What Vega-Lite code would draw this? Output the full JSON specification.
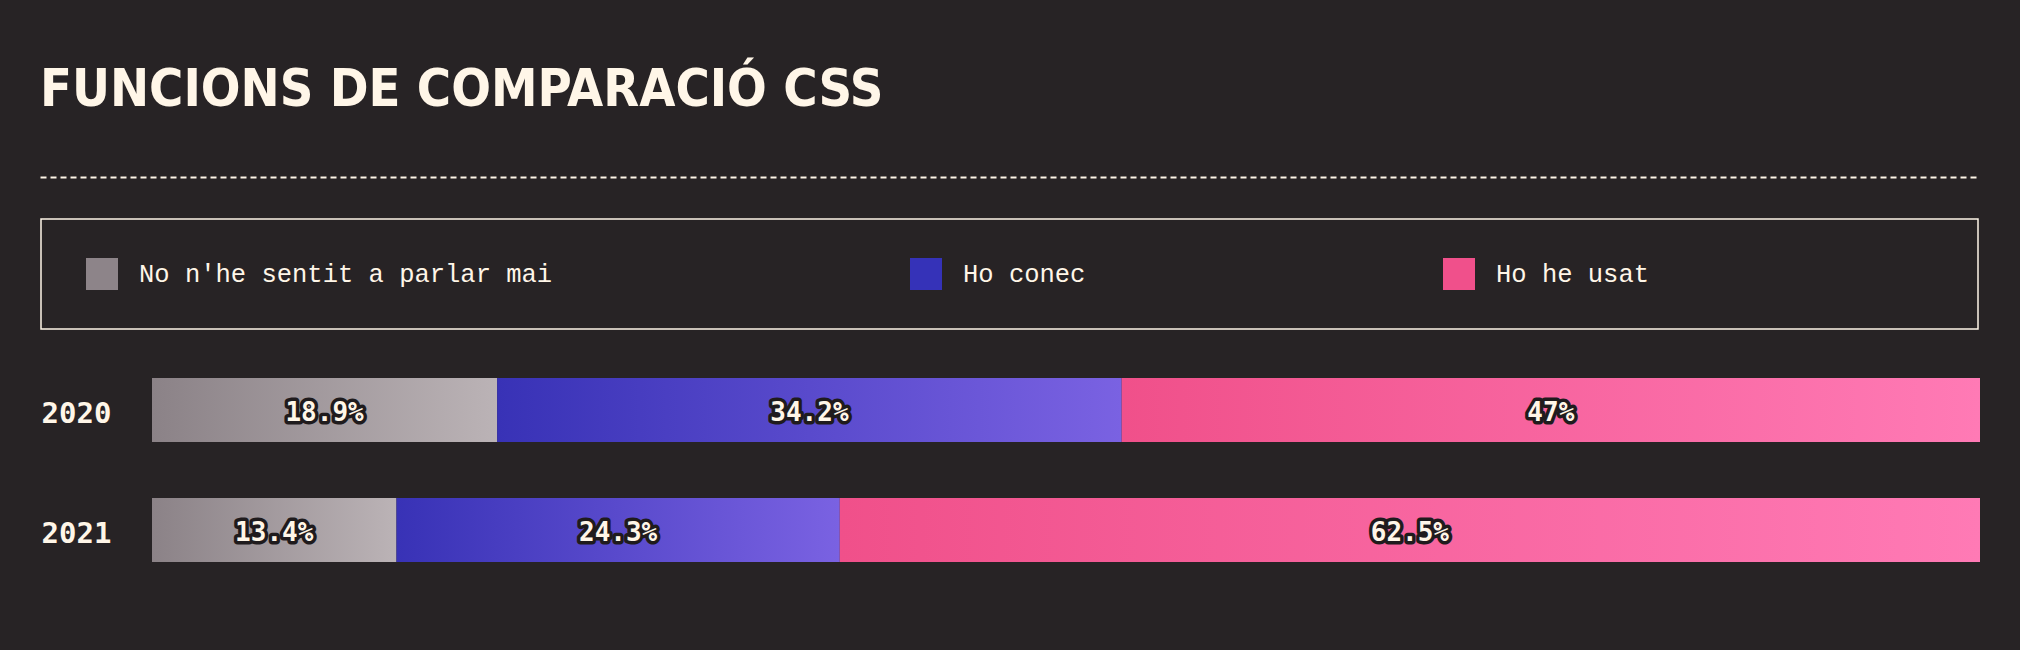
{
  "$schema": "https://vega.github.io/schema/vega-lite/v6.json",
  "width": 1828,
  "height": 240,
  "autosize": {"type": "none"},
  "padding": {"left": 152, "top": 350, "right": 40, "bottom": 60},
  "background": "#272325",
  "config": {"view": {"stroke": null}, "legend": {"strokeWidth": 1.5}},
  "title": {
    "text": "FUNCIONS DE COMPARACIÓ CSS",
    "anchor": "start",
    "frame": "group",
    "dx": -112,
    "dy": -19,
    "offset": 0,
    "baseline": "alphabetic",
    "font": "Liberation Sans Narrow, DejaVu Sans Condensed, sans-serif",
    "fontSize": 52,
    "fontWeight": "bold",
    "color": "#fff6e8"
  },
  "data": {
    "values": [
      {"year": "2020", "cat": "No n'he sentit a parlar mai", "ord": 1, "pct": 0.189},
      {"year": "2020", "cat": "Ho conec", "ord": 2, "pct": 0.342},
      {"year": "2020", "cat": "Ho he usat", "ord": 3, "pct": 0.47},
      {"year": "2021", "cat": "No n'he sentit a parlar mai", "ord": 1, "pct": 0.134},
      {"year": "2021", "cat": "Ho conec", "ord": 2, "pct": 0.243},
      {"year": "2021", "cat": "Ho he usat", "ord": 3, "pct": 0.625}
    ]
  },
  "resolve": {"scale": {"x": "independent"}, "axis": {"x": "independent"}},
  "layer": [
    {
      "encoding": {
        "y": {
          "field": "year",
          "type": "nominal",
          "scale": {"paddingInner": 0.4667, "paddingOuter": 0.2333},
          "axis": {
            "title": null,
            "domain": false,
            "ticks": false,
            "tickSize": 0,
            "labelAlign": "left",
            "labelPadding": 111,
            "labelOffset": 4,
            "labelFont": "DejaVu Sans Mono",
            "labelFontWeight": "bold",
            "labelFontSize": 29,
            "labelColor": "#fff6e8",
            "labelBaseline": "middle"
          }
        }
      },
      "layer": [
        {
          "transform": [
            {"stack": "pct", "groupby": ["year"], "sort": [{"field": "ord"}], "offset": "normalize", "as": ["s0", "s1"]},
            {"filter": "datum.ord == 1"}
          ],
          "mark": {
            "type": "bar",
            "fill": {"gradient": "linear", "x1": 0, "y1": 0, "x2": 1, "y2": 0,
              "stops": [{"offset": 0, "color": "#8b8287"}, {"offset": 1, "color": "#bbb3b6"}]}
          },
          "encoding": {
            "x": {"field": "s0", "type": "quantitative", "scale": {"domain": [0, 1]}, "axis": null},
            "x2": {"field": "s1"},
            "color": {
              "field": "cat",
              "type": "nominal",
              "sort": null,
              "scale": {
                "domain": ["No n'he sentit a parlar mai", "Ho conec", "Ho he usat"],
                "range": ["#8d8489", "#3532b8", "#f0508b"]
              },
              "legend": {
                "orient": "none",
                "legendX": -111,
                "legendY": -131,
                "direction": "horizontal",
                "columns": 3,
                "columnPadding": 351,
                "title": "\u00a0",
                "titleOrient": "right",
                "titlePadding": 290,
                "titleFontSize": 1,
                "padding": 39,
                "strokeColor": "#fff6e8",
                "symbolType": "square",
                "symbolSize": 1024,
                "symbolStrokeWidth": 0,
                "symbolOpacity": 1,
                "symbolOffset": 6,
                "labelFont": "Liberation Mono",
                "labelFontSize": 25.5,
                "labelColor": "#fff6e8",
                "labelOffset": 21,
                "labelLimit": 1000
              }
            }
          }
        },
        {
          "transform": [
            {"stack": "pct", "groupby": ["year"], "sort": [{"field": "ord"}], "offset": "normalize", "as": ["s0", "s1"]},
            {"filter": "datum.ord == 2"}
          ],
          "mark": {
            "type": "bar",
            "fill": {"gradient": "linear", "x1": 0, "y1": 0, "x2": 1, "y2": 0,
              "stops": [{"offset": 0, "color": "#3832b6"}, {"offset": 1, "color": "#7a62e2"}]}
          },
          "encoding": {
            "x": {"field": "s0", "type": "quantitative", "scale": {"domain": [0, 1]}, "axis": null},
            "x2": {"field": "s1"}
          }
        },
        {
          "transform": [
            {"stack": "pct", "groupby": ["year"], "sort": [{"field": "ord"}], "offset": "normalize", "as": ["s0", "s1"]},
            {"filter": "datum.ord == 3"}
          ],
          "mark": {
            "type": "bar",
            "fill": {"gradient": "linear", "x1": 0, "y1": 0, "x2": 1, "y2": 0,
              "stops": [{"offset": 0, "color": "#f0508a"}, {"offset": 1, "color": "#ff7ab5"}]}
          },
          "encoding": {
            "x": {"field": "s0", "type": "quantitative", "scale": {"domain": [0, 1]}, "axis": null},
            "x2": {"field": "s1"}
          }
        },
        {
          "mark": {
            "type": "text",
            "font": "DejaVu Sans Mono",
            "fontWeight": "bold",
            "fontSize": 26,
            "fill": "#1f1b1d",
            "stroke": "#1f1b1d",
            "strokeWidth": 7,
            "strokeJoin": "round",
            "align": "center",
            "baseline": "middle",
            "dy": 3
          },
          "encoding": {
            "x": {"field": "pct", "type": "quantitative", "stack": "normalize", "bandPosition": 0.5, "scale": {"domain": [0, 1]}, "axis": null},
            "detail": {"field": "cat"},
            "order": {"field": "ord"},
            "text": {"field": "pct", "type": "quantitative", "format": ".1~%"}
          }
        },
        {
          "mark": {
            "type": "text",
            "font": "DejaVu Sans Mono",
            "fontWeight": "bold",
            "fontSize": 26,
            "fill": "#fff6e8",
            "align": "center",
            "baseline": "middle",
            "dy": 3
          },
          "encoding": {
            "x": {"field": "pct", "type": "quantitative", "stack": "normalize", "bandPosition": 0.5, "scale": {"domain": [0, 1]}, "axis": null},
            "detail": {"field": "cat"},
            "order": {"field": "ord"},
            "text": {"field": "pct", "type": "quantitative", "format": ".1~%"}
          }
        }
      ]
    },
    {
      "mark": {"type": "rule", "opacity": 0},
      "encoding": {
        "x": {
          "field": "pct",
          "type": "quantitative",
          "scale": {"domain": [0, 1], "range": [-112, 1828]},
          "axis": {
            "orient": "top",
            "offset": 173,
            "domainColor": "#fff6e8",
            "domainDash": [6, 4],
            "domainWidth": 2,
            "ticks": false,
            "labels": false,
            "grid": false,
            "title": null
          }
        }
      }
    }
  ]
}
